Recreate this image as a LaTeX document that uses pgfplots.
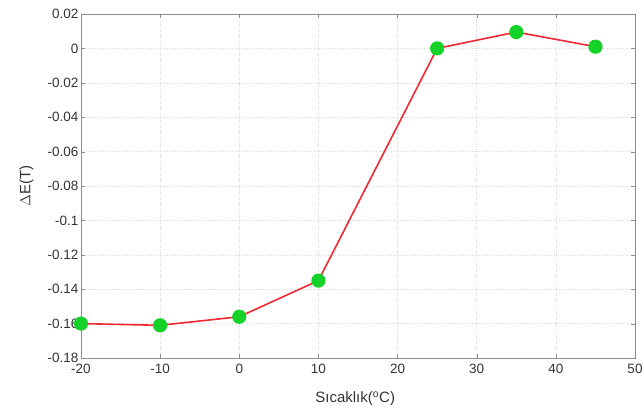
\documentclass[border=0pt]{standalone}
\usepackage{pgfplots}
\pgfplotsset{compat=1.18}
\usepackage{fontspec}
\setmainfont{Liberation Sans}
\definecolor{mgreen}{RGB}{20,210,40}
\definecolor{mred}{RGB}{240,40,50}
\begin{document}
\begin{tikzpicture}
\begin{axis}[
  scale only axis,
  width=554pt, height=344pt,
  xmin=-20, xmax=50, ymin=-0.18, ymax=0.02,
  xtick={-20,-10,0,10,20,30,40,50},
  ytick={-0.18,-0.16,-0.14,-0.12,-0.1,-0.08,-0.06,-0.04,-0.02,0,0.02},
  scaled y ticks=false,
  yticklabel style={/pgf/number format/fixed,/pgf/number format/precision=2, xshift=1pt},
  /pgf/number format/assume math mode=true,
  tick label style={font=\fontsize{13.5}{15}\selectfont, text=black!80},
  label style={font=\fontsize{15}{17}\selectfont, text=black!80},
  tick align=inside,
  major tick length=4pt,
  axis line style={black!45, line width=0.9pt},
  tick style={black!45},
  grid=major,
  grid style={dotted, black!15, line width=0.6pt},
  xlabel={Sıcaklık($^{\mathrm{o}}$C)},
  ylabel={$\Delta$E(T)},
  xlabel style={at={(axis description cs:0.495,0)}, anchor=north, yshift=-30pt},
  ylabel style={at={(axis description cs:0,0.5)}, anchor=south, yshift=44pt},
  xticklabel style={yshift=-3pt},
  clip=false,
]
\addplot[mred, line width=1.6pt, mark=*, mark size=6.3pt,
  mark options={fill=mgreen, draw=mgreen}]
coordinates {(-20,-0.160) (-10,-0.161) (0,-0.156) (10,-0.135) (25,0.000) (35,0.0095) (45,0.001)};
\end{axis}
\pgfresetboundingbox
\path[use as bounding box] (-81pt,-58pt) rectangle (562pt,358pt);
\end{tikzpicture}
\end{document}
